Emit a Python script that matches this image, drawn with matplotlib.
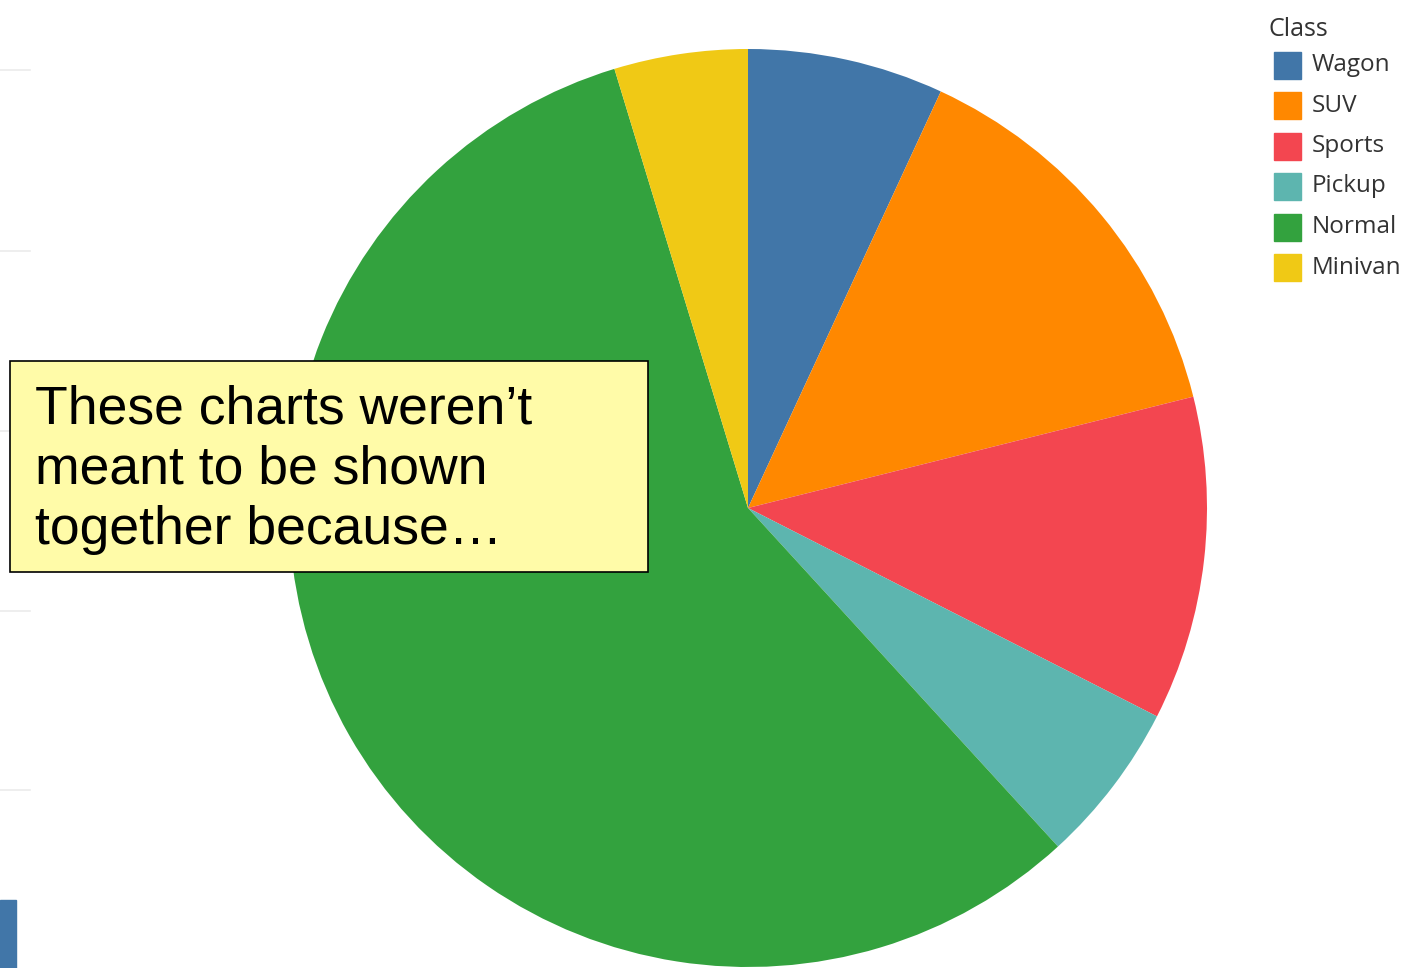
import matplotlib.pyplot as plt
from matplotlib.patches import Rectangle

# car counts by class, as share of total (%)
classes = ['Wagon', 'SUV', 'Sports', 'Pickup', 'Normal', 'Minivan']
shares = [6.9, 14.2, 11.4, 5.7, 57.1, 4.7]
colors = ['#4176A8', '#FF8800', '#F34650', '#5DB5AF', '#33A23E', '#F0C915']
note = 'These charts weren\u2019t\nmeant to be shown\ntogether because\u2026'

W, H = 1418, 968
fig = plt.figure(figsize=(W / 100, H / 100), dpi=100)
fig.patch.set_facecolor('white')

# background layer in pixel coordinates
bg = fig.add_axes([0, 0, 1, 1])
bg.set_xlim(0, W)
bg.set_ylim(H, 0)
bg.axis('off')

# faint gridlines and bar stub of the neighbouring chart
for y in [70, 251, 431, 611, 790]:
    bg.plot([0, 30], [y, y], color='#ebebeb', lw=1.2)
bg.add_patch(Rectangle((0, 900), 16, 70, color='#4176A8'))

# pie
cx, cy, r = 748, 508, 459
ax = fig.add_axes([(cx - r) / W, (H - cy - r) / H, 2 * r / W, 2 * r / H])
ax.pie(shares, colors=colors, startangle=90, counterclock=False,
       wedgeprops=dict(linewidth=0))
ax.set_xlim(-1, 1)
ax.set_ylim(-1, 1)
ax.axis('off')

# overlay for legend and note box
top = fig.add_axes([0, 0, 1, 1], zorder=5)
top.set_xlim(0, W)
top.set_ylim(H, 0)
top.axis('off')

top.text(1269, 30, 'Class', fontsize=18, family='Open Sans', color='#333333',
         va='center', ha='left')
for i, (name, c) in enumerate(zip(classes, colors)):
    y = 65 + i * 40.5
    top.add_patch(Rectangle((1274, y - 13.5), 27, 27, color=c))
    top.text(1312, y, name, fontsize=17.5, family='Open Sans', color='#333333',
             va='center', ha='left')

top.add_patch(Rectangle((10, 361), 638, 211, facecolor='#FFFBA8',
                        edgecolor='black', lw=1.2))
top.text(35, 470, note, fontsize=38.5, family='Liberation Sans',
         va='center', ha='left', linespacing=1.26, color='black')

fig.savefig('out.png', dpi=100)
